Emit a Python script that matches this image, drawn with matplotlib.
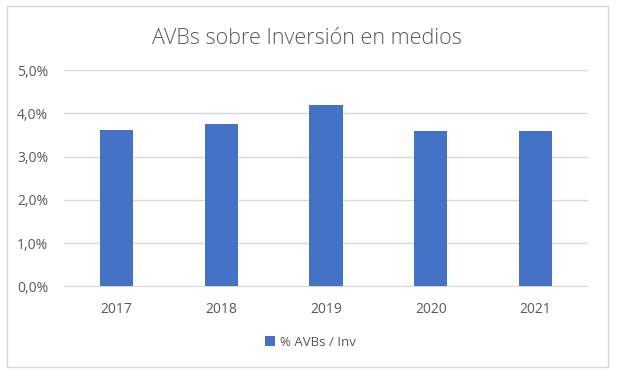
import matplotlib
matplotlib.use('Agg')
import matplotlib.pyplot as plt
from matplotlib.patches import Rectangle
from matplotlib.ticker import FuncFormatter

years = ['2017', '2018', '2019', '2020', '2021']
pct_avbs_inv = [3.61, 3.76, 4.20, 3.59, 3.59]
y_ticks = [0, 1, 2, 3, 4, 5]

bar_color = '#4472C4'
text_color = '#595959'
grid_color = '#D9D9D9'

plt.rcParams['font.family'] = ['Open Sans', 'DejaVu Sans']

fig = plt.figure(figsize=(6.21, 3.80), dpi=100)
ax = fig.add_axes([64 / 621, 0.2466, 524 / 621, 0.5684])

x = list(range(len(years)))
ax.bar(x, pct_avbs_inv, width=0.315, color=bar_color, label='% AVBs / Inv', zorder=3)

ax.set_xlim(-0.5, len(years) - 0.5)
ax.set_ylim(0, 5)
ax.set_yticks(y_ticks)
ax.yaxis.set_major_formatter(FuncFormatter(lambda v, p: f"{v:.1f}%".replace('.', ',')))
ax.set_xticks(x)
ax.set_xticklabels(years)
ax.grid(axis='y', color=grid_color, linewidth=1, zorder=0)
for s in ['top', 'right', 'left']:
    ax.spines[s].set_visible(False)
ax.spines['bottom'].set_color(grid_color)
ax.tick_params(axis='both', length=0, colors=text_color, labelsize=10)
ax.tick_params(axis='y', pad=11.5)
ax.tick_params(axis='x', pad=11)

fig.text(0.494, 0.90, 'AVBs sobre Inversión en medios', ha='center', va='center',
         fontsize=15.5, color=text_color, fontweight='light')

fig.legend(loc='center', bbox_to_anchor=(0.5, 0.10), frameon=False, fontsize=9.5,
           labelcolor=text_color, handlelength=0.7, handleheight=0.7, handletextpad=0.4)

fig.patches.append(Rectangle((7.3 / 621, 13.3 / 380), 600.4 / 621, 360.7 / 380,
                             transform=fig.transFigure, fill=False,
                             edgecolor=grid_color, linewidth=1))

fig.savefig('out.png', dpi=100)
